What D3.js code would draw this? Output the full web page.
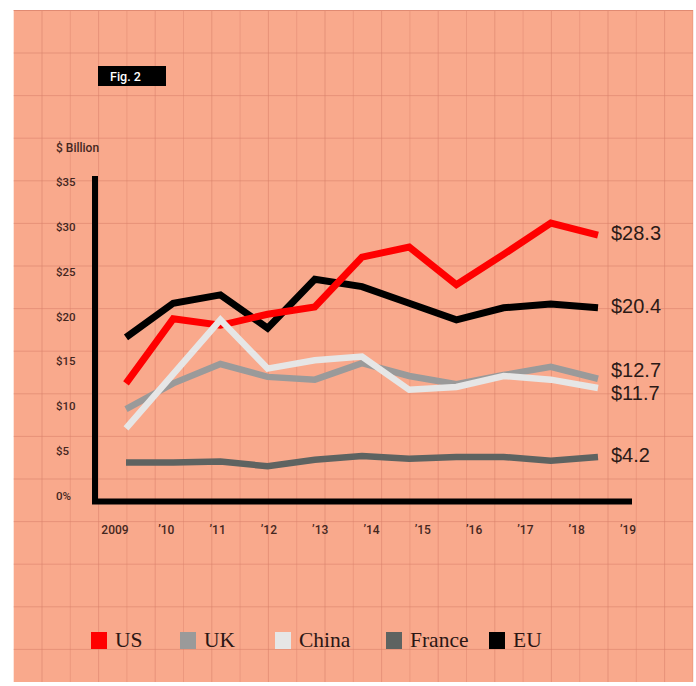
<!DOCTYPE html>
<html>
<head>
<meta charset="utf-8">
<script src="https://cdn.jsdelivr.net/npm/d3@7"></script>
<style>
  body { margin: 0; background: #fff; }
  svg { display: block; }
</style>
</head>
<body>
<div id="chart"></div>
<script>
(function() {
  // Data
  const years = [2009, 2010, 2011, 2012, 2013, 2014, 2015, 2016, 2017, 2018, 2019];
  const xTickLabels = ['2009', '\u201910', '\u201911', '\u201912', '\u201913', '\u201914', '\u201915', '\u201916', '\u201917', '\u201918', '\u201919'];
  const yTickValues = [0, 5, 10, 15, 20, 25, 30, 35];
  const yTickLabels = ['0%', '$5', '$10', '$15', '$20', '$25', '$30', '$35'];

  const us     = [12.2, 19.2, 18.5, 19.7, 20.5, 25.9, 27.0, 22.9, 26.2, 29.6, 28.3];
  const uk     = [9.4, 12.2, 14.3, 12.9, 12.6, 14.4, 13.0, 12.1, 13.1, 14.0, 12.7];
  const china  = [7.3, 13.2, 19.1, 13.8, 14.7, 15.1, 11.5, 11.8, 13.0, 12.6, 11.7];
  const france = [3.6, 3.6, 3.7, 3.2, 3.9, 4.3, 4.0, 4.2, 4.2, 3.8, 4.2];
  const eu     = [17.2, 20.9, 21.8, 18.2, 23.5, 22.7, 20.9, 19.1, 20.4, 20.8, 20.4];

  const seriesNames = ['US', 'UK', 'China', 'France', 'EU'];
  const seriesValues = [us, uk, china, france, eu];
  const endLabels = ['$28.3', '$12.7', '$11.7', '$4.2', '$20.4'];

  const colors = { US: '#ff0000', UK: '#9a9a9a', China: '#e6e6e6', France: '#5e6361', EU: '#000000' };
  const drawOrder = ['France', 'UK', 'EU', 'US', 'China'];

  const W = 696, H = 686;
  const ink = '#45271f';

  const svg = d3.select('#chart').append('svg')
    .attr('width', W).attr('height', H);

  // Paper background
  const paper = { x0: 13.7, y0: 10, x1: 693, y1: 682 };
  svg.append('rect')
    .attr('x', paper.x0).attr('y', paper.y0)
    .attr('width', paper.x1 - paper.x0).attr('height', paper.y1 - paper.y0)
    .attr('fill', '#f9a98c');

  // Graph-paper grid
  const grid = svg.append('g').attr('stroke', '#d9806a').attr('stroke-width', 1);
  d3.range(paper.x0 + 28.3, paper.x1, 28.3).forEach((x, i) => {
    grid.append('line')
      .attr('x1', x).attr('x2', x).attr('y1', paper.y0).attr('y2', paper.y1)
      .attr('stroke-opacity', i % 2 ? 0.4 : 0.55);
  });
  d3.range(53, paper.y1, 42.6).forEach(y => {
    grid.append('line')
      .attr('x1', paper.x0).attr('x2', paper.x1).attr('y1', y).attr('y2', y)
      .attr('stroke-opacity', 0.55);
  });
  svg.append('line')
    .attr('x1', paper.x0).attr('x2', paper.x1).attr('y1', paper.y0 + 0.5).attr('y2', paper.y0 + 0.5)
    .attr('stroke', '#e08a72');

  // Fig. 2 tag
  svg.append('rect').attr('x', 98).attr('y', 66).attr('width', 68).attr('height', 20).attr('fill', '#000');
  svg.append('text')
    .attr('x', 110).attr('y', 80.5)
    .attr('font-family', 'Roboto, "Liberation Sans", sans-serif')
    .attr('font-size', '12.5px').attr('font-weight', 500)
    .attr('fill', '#fff')
    .text('Fig. 2');

  // Scales
  const x = d3.scaleLinear().domain([2009, 2019]).range([126, 598]);
  const y = d3.scaleLinear().domain([0, 35]).range([495.7, 173.35]);
  const xLabel = d3.scalePoint().domain(xTickLabels).range([115, 628]);
  const yLabel = d3.scaleLinear().domain([0, 35]).range([496, 182]);

  const font = 'Roboto, "Liberation Sans", Arial, sans-serif';

  // Unit label
  svg.append('text')
    .attr('x', 56).attr('y', 152)
    .attr('font-family', font).attr('font-size', '12px').attr('font-weight', 500)
    .attr('fill', ink)
    .text('$ Billion');

  // Y tick labels
  svg.append('g').selectAll('text')
    .data(yTickValues)
    .join('text')
    .attr('x', 56).attr('y', d => yLabel(d))
    .attr('dy', '0.35em')
    .attr('font-family', font).attr('font-size', '11.5px').attr('font-weight', 500)
    .attr('fill', ink)
    .text((d, i) => yTickLabels[i]);

  // X tick labels
  svg.append('g').selectAll('text')
    .data(xTickLabels)
    .join('text')
    .attr('x', d => xLabel(d)).attr('y', 534)
    .attr('text-anchor', 'middle')
    .attr('font-family', font).attr('font-size', '12px').attr('font-weight', 500)
    .attr('fill', ink)
    .text(d => d);

  // Axis lines
  svg.append('path')
    .attr('d', `M95,176 V501.5 H632`)
    .attr('fill', 'none').attr('stroke', '#000').attr('stroke-width', 6)
    .attr('stroke-linejoin', 'miter');

  // Lines
  const line = d3.line().x((d, i) => x(years[i])).y(d => y(d));
  drawOrder.forEach(name => {
    const vals = seriesValues[seriesNames.indexOf(name)];
    svg.append('path')
      .datum(vals)
      .attr('fill', 'none')
      .attr('stroke', colors[name])
      .attr('stroke-width', name === 'US' || name === 'EU' ? 7 : 6.5)
      .attr('stroke-linejoin', 'miter')
      .attr('stroke-miterlimit', 3)
      .attr('d', line);
  });

  // End labels, nudged apart when they crowd
  const ends = seriesNames.map((name, i) => ({
    name, text: endLabels[i], y: y(seriesValues[i][seriesValues[i].length - 1])
  })).sort((a, b) => a.y - b.y);
  for (let k = 1; k < ends.length; k++) {
    const gap = ends[k].y - ends[k - 1].y;
    if (gap < 23) {
      const push = (23 - gap) / 2;
      ends[k - 1].y -= push;
      ends[k].y += push;
    }
  }
  svg.append('g').selectAll('text')
    .data(ends)
    .join('text')
    .attr('x', 611).attr('y', d => d.y - 2)
    .attr('dy', '0.35em')
    .attr('font-family', '"Liberation Sans", Arial, sans-serif')
    .attr('font-size', '20px')
    .attr('fill', '#2b1a17')
    .text(d => d.text);

  // Legend
  const legendX = [91, 180, 275, 386, 489];
  const legend = svg.append('g');
  seriesNames.forEach((name, i) => {
    legend.append('rect')
      .attr('x', legendX[i]).attr('y', 632)
      .attr('width', 16).attr('height', 17)
      .attr('fill', colors[name]);
    legend.append('text')
      .attr('x', legendX[i] + 24).attr('y', 647)
      .attr('font-family', '"Liberation Serif", "Times New Roman", serif')
      .attr('font-size', '21.5px')
      .attr('fill', '#2b1614')
      .text(name);
  });
})();
</script>
</body>
</html>
